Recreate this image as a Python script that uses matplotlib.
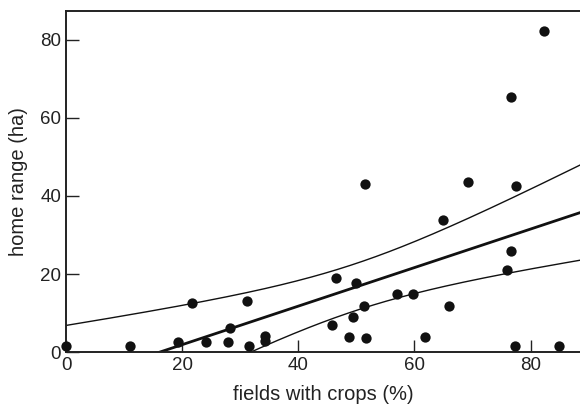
import numpy as np
import matplotlib
matplotlib.use("Agg")
import matplotlib.pyplot as plt

plt.rcParams['font.family'] = ['Liberation Sans', 'DejaVu Sans']

# fields with crops (%) and home range (ha)
crops = [0, 11, 19.3, 21.7, 24.1, 27.9, 28.2, 31.2, 31.5, 34.3, 34.3,
         45.8, 46.5, 48.7, 49.4, 49.9, 51.3, 51.4, 51.6, 57.0, 59.7,
         61.8, 64.9, 65.9, 69.3, 75.9, 76.6, 76.7, 77.3, 77.4, 82.3, 84.9]
home_range = [1.5, 1.5, 2.5, 12.6, 2.5, 2.5, 6.1, 13.0, 1.5, 4.1, 2.8,
              6.9, 19.0, 3.8, 9.0, 17.7, 11.8, 43.0, 3.6, 14.9, 14.9,
              3.8, 33.8, 11.8, 43.7, 21.0, 25.9, 65.4, 1.5, 42.6, 82.4, 1.5]

x = np.array(crops)
y = np.array(home_range)
n = len(x)

# least squares fit and 95% confidence band of the mean
slope, intercept = np.polyfit(x, y, 1)
resid = y - (intercept + slope * x)
s = np.sqrt(np.sum(resid ** 2) / (n - 2))
sxx = np.sum((x - x.mean()) ** 2)
t_val = 2.042

xs = np.linspace(0, 88.5, 200)
fit = intercept + slope * xs
half = t_val * s * np.sqrt(1 / n + (xs - x.mean()) ** 2 / sxx)

fig = plt.figure(figsize=(5.8, 4.07), dpi=100)
ax = fig.add_axes([0.1138, 0.135, 0.8862, 0.838])

ax.plot(xs, fit, color='#111111', lw=2.0)
ax.plot(xs, fit + half, color='#111111', lw=1.0)
ax.plot(xs, fit - half, color='#111111', lw=1.0)
ax.scatter(x, y, s=55, color='#111111', zorder=3, clip_on=False, linewidths=0)

ax.set_xlim(0, 88.5)
ax.set_ylim(0, 87.4)
ax.set_xticks([0, 20, 40, 60, 80])
ax.set_yticks([0, 20, 40, 60, 80])
ax.tick_params(direction='in', length=9, width=1, labelsize=13.5, colors='#222222')
ax.spines['right'].set_visible(False)
for sp in ['left', 'bottom', 'top']:
    ax.spines[sp].set_linewidth(1.4)
    ax.spines[sp].set_color('#222222')

ax.set_xlabel('fields with crops (%)', fontsize=14.5, color='#222222', labelpad=8)
ax.set_ylabel('home range (ha)', fontsize=14.5, color='#222222', labelpad=9)

fig.savefig('out.png', dpi=100)
